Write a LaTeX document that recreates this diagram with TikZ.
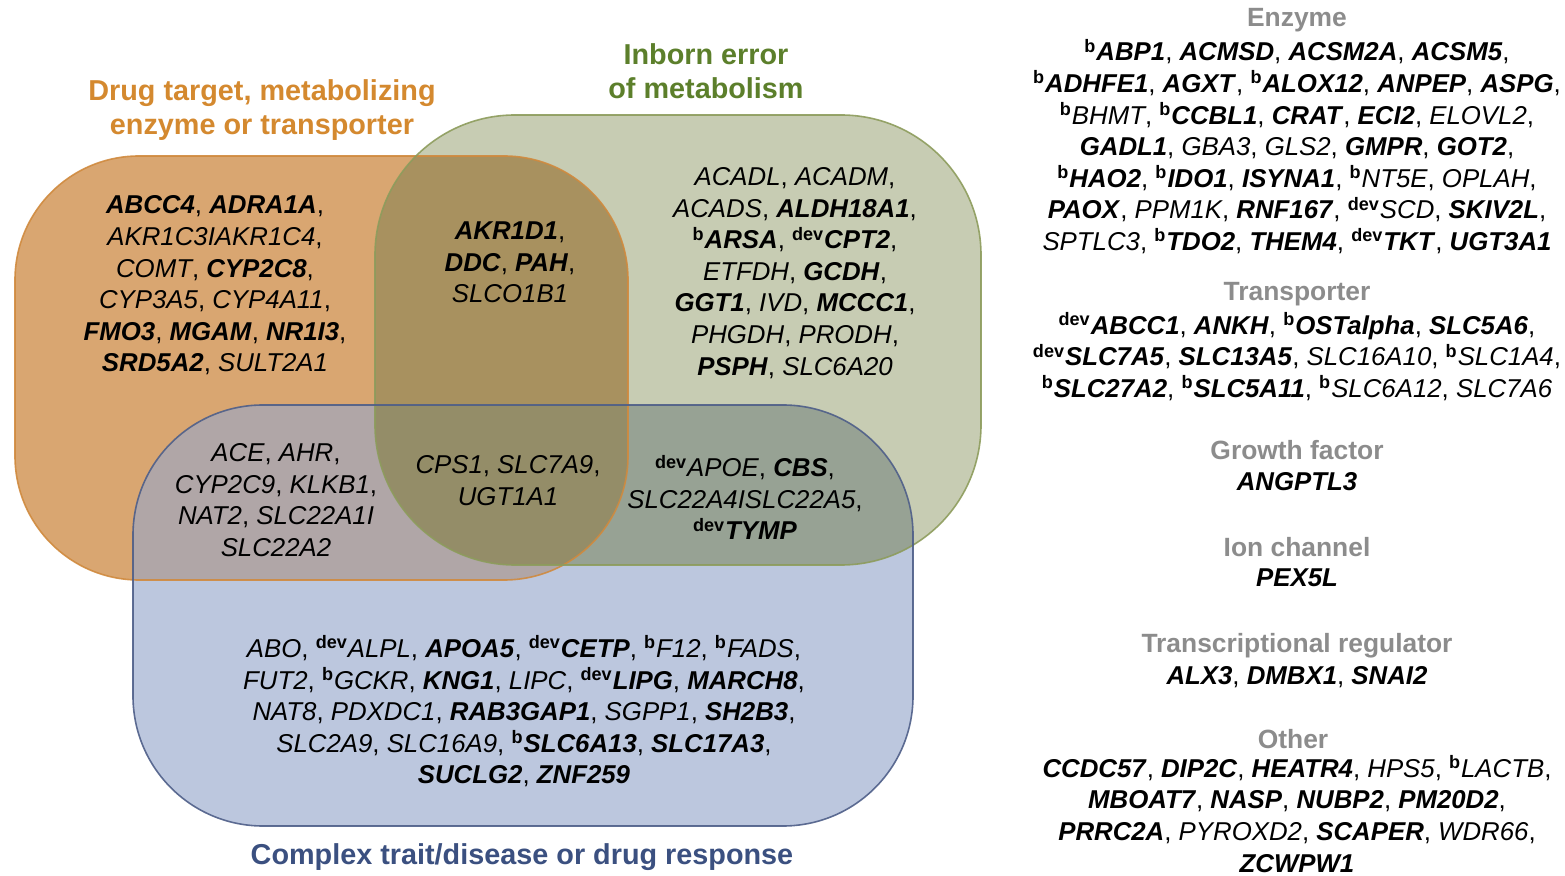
\documentclass[tikz,border=0pt]{standalone}
\usepackage{fontspec}
\setmainfont{Liberation Sans}
\usetikzlibrary{positioning}

% region colours
\definecolor{oFill}{HTML}{D9A671}
\definecolor{gFill}{HTML}{C7CCB3}
\definecolor{bFill}{HTML}{BCC7DE}
\definecolor{ogFill}{HTML}{A8915F}
\definecolor{obFill}{HTML}{B0A6A7}
\definecolor{gbFill}{HTML}{97A294}
\definecolor{ogbFill}{HTML}{948D68}
% outlines and titles
\definecolor{oLine}{HTML}{D08A3E}
\definecolor{gLine}{HTML}{8D9C5C}
\definecolor{bLine}{HTML}{4E5E88}
\definecolor{oText}{HTML}{D4892F}
\definecolor{gText}{HTML}{5C7F2B}
\definecolor{bText}{HTML}{3B5080}
\definecolor{hText}{HTML}{8C8C8C}

% gene name markup
\newcommand\gi[1]{\textit{#1}}
\newcommand\gb[1]{\textbf{\textit{#1}}}
\newcommand\mkb{\textsuperscript{\bfseries\upshape b}}
\newcommand\mkdev{\textsuperscript{\bfseries\upshape dev}}

\tikzset{
  genes/.style={align=center, inner sep=0pt, font=\fontsize{12.9}{15.8}\selectfont},
  vtitle/.style={align=center, inner sep=0pt, font=\fontsize{14.4}{17}\selectfont\bfseries},
  head/.style={inner sep=0pt, text=hText, font=\fontsize{13.2}{15}\selectfont\bfseries},
  oshape/.style={rounded corners=62pt},
  gshape/.style={rounded corners=70pt},
  bshape/.style={rounded corners=65pt},
}

\begin{document}
\begin{tikzpicture}[x=0.5pt,y=-0.5pt]
\useasboundingbox (0,0) rectangle (1565,876);

% ---- set fills ----
\fill[oFill, oshape] (15,156) rectangle (628,580);
\fill[gFill, gshape] (375,115) rectangle (981,565);
\fill[bFill, bshape] (133,405) rectangle (913,826);

% pairwise overlaps
\begin{scope}
  \clip[oshape] (15,156) rectangle (628,580);
  \fill[ogFill, gshape] (375,115) rectangle (981,565);
  \fill[obFill, bshape] (133,405) rectangle (913,826);
\end{scope}
\begin{scope}
  \clip[gshape] (375,115) rectangle (981,565);
  \fill[gbFill, bshape] (133,405) rectangle (913,826);
\end{scope}
% triple overlap
\begin{scope}
  \clip[oshape] (15,156) rectangle (628,580);
  \clip[gshape] (375,115) rectangle (981,565);
  \fill[ogbFill, bshape] (133,405) rectangle (913,826);
\end{scope}

% ---- set outlines ----
\draw[oLine, line width=0.8pt, oshape, opacity=0.9] (15,156) rectangle (628,580);
\draw[gLine, line width=0.8pt, gshape, opacity=0.9] (375,115) rectangle (981,565);
\draw[bLine, line width=0.8pt, bshape, opacity=0.9] (133,405) rectangle (913,826);

% ---- set titles ----
\node[vtitle, text=oText] (tDrug) at (262,110)
  {Drug target, metabolizing\\enzyme or transporter};
\node[vtitle, text=gText] (tInborn) at (706,71.5)
  {Inborn error\\of metabolism};
\node[vtitle, text=bText] (tComplex) at (522,857)
  {Complex trait/disease or drug response};

% ---- genes inside the sets ----
\node[genes] (gO) at (215,285.5) {%
  \gb{ABCC4}, \gb{ADRA1A},\\
  \gi{AKR1C3IAKR1C4},\\
  \gi{COMT}, \gb{CYP2C8},\\
  \gi{CYP3A5}, \gi{CYP4A11},\\
  \gb{FMO3}, \gb{MGAM}, \gb{NR1I3},\\
  \gb{SRD5A2}, \gi{SULT2A1}};

\node[genes] (gOG) at (510,262.5) {%
  \gb{AKR1D1},\\
  \gb{DDC}, \gb{PAH},\\
  \gi{SLCO1B1}};

\node[genes] (gG) at (795,273) {%
  \gi{ACADL}, \gi{ACADM},\\
  \gi{ACADS}, \gb{ALDH18A1},\\
  \mkb\gb{ARSA}, \mkdev\gb{CPT2},\\
  \gi{ETFDH}, \gb{GCDH},\\
  \gb{GGT1}, \gi{IVD}, \gb{MCCC1},\\
  \gi{PHGDH}, \gi{PRODH},\\
  \gb{PSPH}, \gi{SLC6A20}};

\node[genes] (gOB) at (276,500) {%
  \gi{ACE}, \gi{AHR},\\
  \gi{CYP2C9}, \gi{KLKB1},\\
  \gi{NAT2}, \gi{SLC22A1I}\\
  \gi{SLC22A2}};

\node[genes] (gOGB) at (508,480.5) {%
  \gi{CPS1}, \gi{SLC7A9},\\
  \gi{UGT1A1}};

\node[genes] (gGB) at (745,497.5) {%
  \mkdev\gi{APOE}, \gb{CBS},\\
  \gi{SLC22A4ISLC22A5},\\
  \mkdev\gb{TYMP}};

\node[genes] (gB) at (524,711.5) {%
  \gi{ABO}, \mkdev\gi{ALPL}, \gb{APOA5}, \mkdev\gb{CETP}, \mkb\gi{F12}, \mkb\gi{FADS},\\
  \gi{FUT2}, \mkb\gi{GCKR}, \gb{KNG1}, \gi{LIPC}, \mkdev\gb{LIPG}, \gb{MARCH8},\\
  \gi{NAT8}, \gi{PDXDC1}, \gb{RAB3GAP1}, \gi{SGPP1}, \gb{SH2B3},\\
  \gi{SLC2A9}, \gi{SLC16A9}, \mkb\gb{SLC6A13}, \gb{SLC17A3},\\
  \gb{SUCLG2}, \gb{ZNF259}};

% ---- genes outside the sets, by class ----
\node[head] (hEnz) at (1297,20) {Enzyme};
\node[genes] (lEnz) at (1297,146.5) {%
  \mkb\gb{ABP1}, \gb{ACMSD}, \gb{ACSM2A}, \gb{ACSM5},\\
  \mkb\gb{ADHFE1}, \gb{AGXT}, \mkb\gb{ALOX12}, \gb{ANPEP}, \gb{ASPG},\\
  \mkb\gi{BHMT}, \mkb\gb{CCBL1}, \gb{CRAT}, \gb{ECI2}, \gi{ELOVL2},\\
  \gb{GADL1}, \gi{GBA3}, \gi{GLS2}, \gb{GMPR}, \gb{GOT2},\\
  \mkb\gb{HAO2}, \mkb\gb{IDO1}, \gb{ISYNA1}, \mkb\gi{NT5E}, \gi{OPLAH},\\
  \gb{PAOX}, \gi{PPM1K}, \gb{RNF167}, \mkdev\gi{SCD}, \gb{SKIV2L},\\
  \gi{SPTLC3}, \mkb\gb{TDO2}, \gb{THEM4}, \mkdev\gb{TKT}, \gb{UGT3A1}};

\node[head] (hTra) at (1297,294) {Transporter};
\node[genes] (lTra) at (1297,356.5) {%
  \mkdev\gb{ABCC1}, \gb{ANKH}, \mkb\gb{OSTalpha}, \gb{SLC5A6},\\
  \mkdev\gb{SLC7A5}, \gb{SLC13A5}, \gi{SLC16A10}, \mkb\gi{SLC1A4},\\
  \mkb\gb{SLC27A2}, \mkb\gb{SLC5A11}, \mkb\gi{SLC6A12}, \gi{SLC7A6}};

\node[head] (hGro) at (1297,450) {Growth factor};
\node[genes] (lGro) at (1297,482) {\gb{ANGPTL3}};

\node[head] (hIon) at (1297,547) {Ion channel};
\node[genes] (lIon) at (1297,578) {\gb{PEX5L}};

\node[head] (hTrc) at (1297,646) {Transcriptional regulator};
\node[genes] (lTrc) at (1297,677) {\gb{ALX3}, \gb{DMBX1}, \gb{SNAI2}};

\node[head] (hOth) at (1293,739) {Other};
\node[genes] (lOth) at (1297,814) {%
  \gb{CCDC57}, \gb{DIP2C}, \gb{HEATR4}, \gi{HPS5}, \mkb\gi{LACTB},\\
  \gb{MBOAT7}, \gb{NASP}, \gb{NUBP2}, \gb{PM20D2},\\
  \gb{PRRC2A}, \gi{PYROXD2}, \gb{SCAPER}, \gi{WDR66},\\
  \gb{ZCWPW1}};
\end{tikzpicture}
\end{document}
